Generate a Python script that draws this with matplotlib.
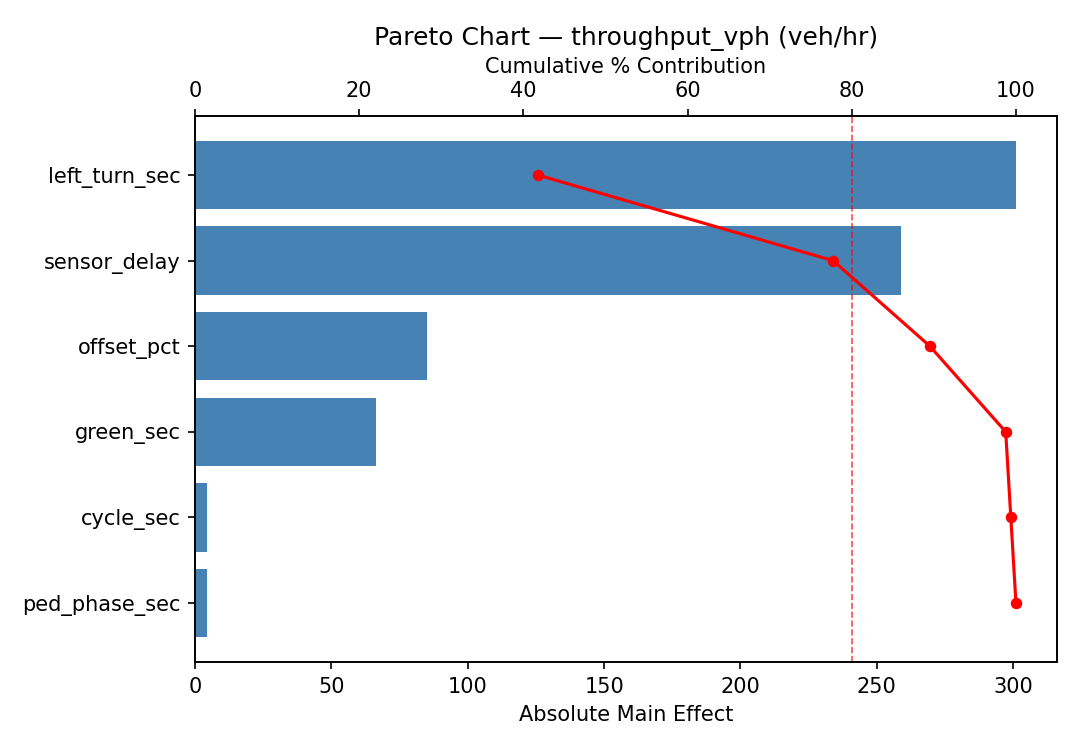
import matplotlib
matplotlib.use("Agg")
import matplotlib.pyplot as plt
import numpy as np

factors = ["left_turn_sec", "sensor_delay", "offset_pct", "green_sec", "cycle_sec", "ped_phase_sec"]
effects = [301.0, 259.0, 85.0, 66.5, 4.5, 4.5]

cum_pct = np.cumsum(effects) / np.sum(effects) * 100
pos = np.arange(len(factors))

fig, ax = plt.subplots(figsize=(7.2, 5), dpi=150)
ax.barh(pos, effects, color="steelblue", height=0.8)
ax.set_yticks(pos)
ax.set_yticklabels(factors)
ax.invert_yaxis()
ax.set_xlabel("Absolute Main Effect")

ax2 = ax.twiny()
ax2.plot(cum_pct, pos, color="red", marker="o", markersize=4.5, linewidth=1.5)
ax2.axvline(80, color="red", linestyle="--", linewidth=0.8, alpha=0.7)
ax2.set_xlim(0, 105)
ax2.set_xlabel("Cumulative % Contribution")
ax2.set_title("Pareto Chart \u2014 throughput_vph (veh/hr)")

fig.subplots_adjust(left=0.1806, right=0.9787, top=0.8453, bottom=0.1173)
fig.savefig("out.png", dpi=150)
